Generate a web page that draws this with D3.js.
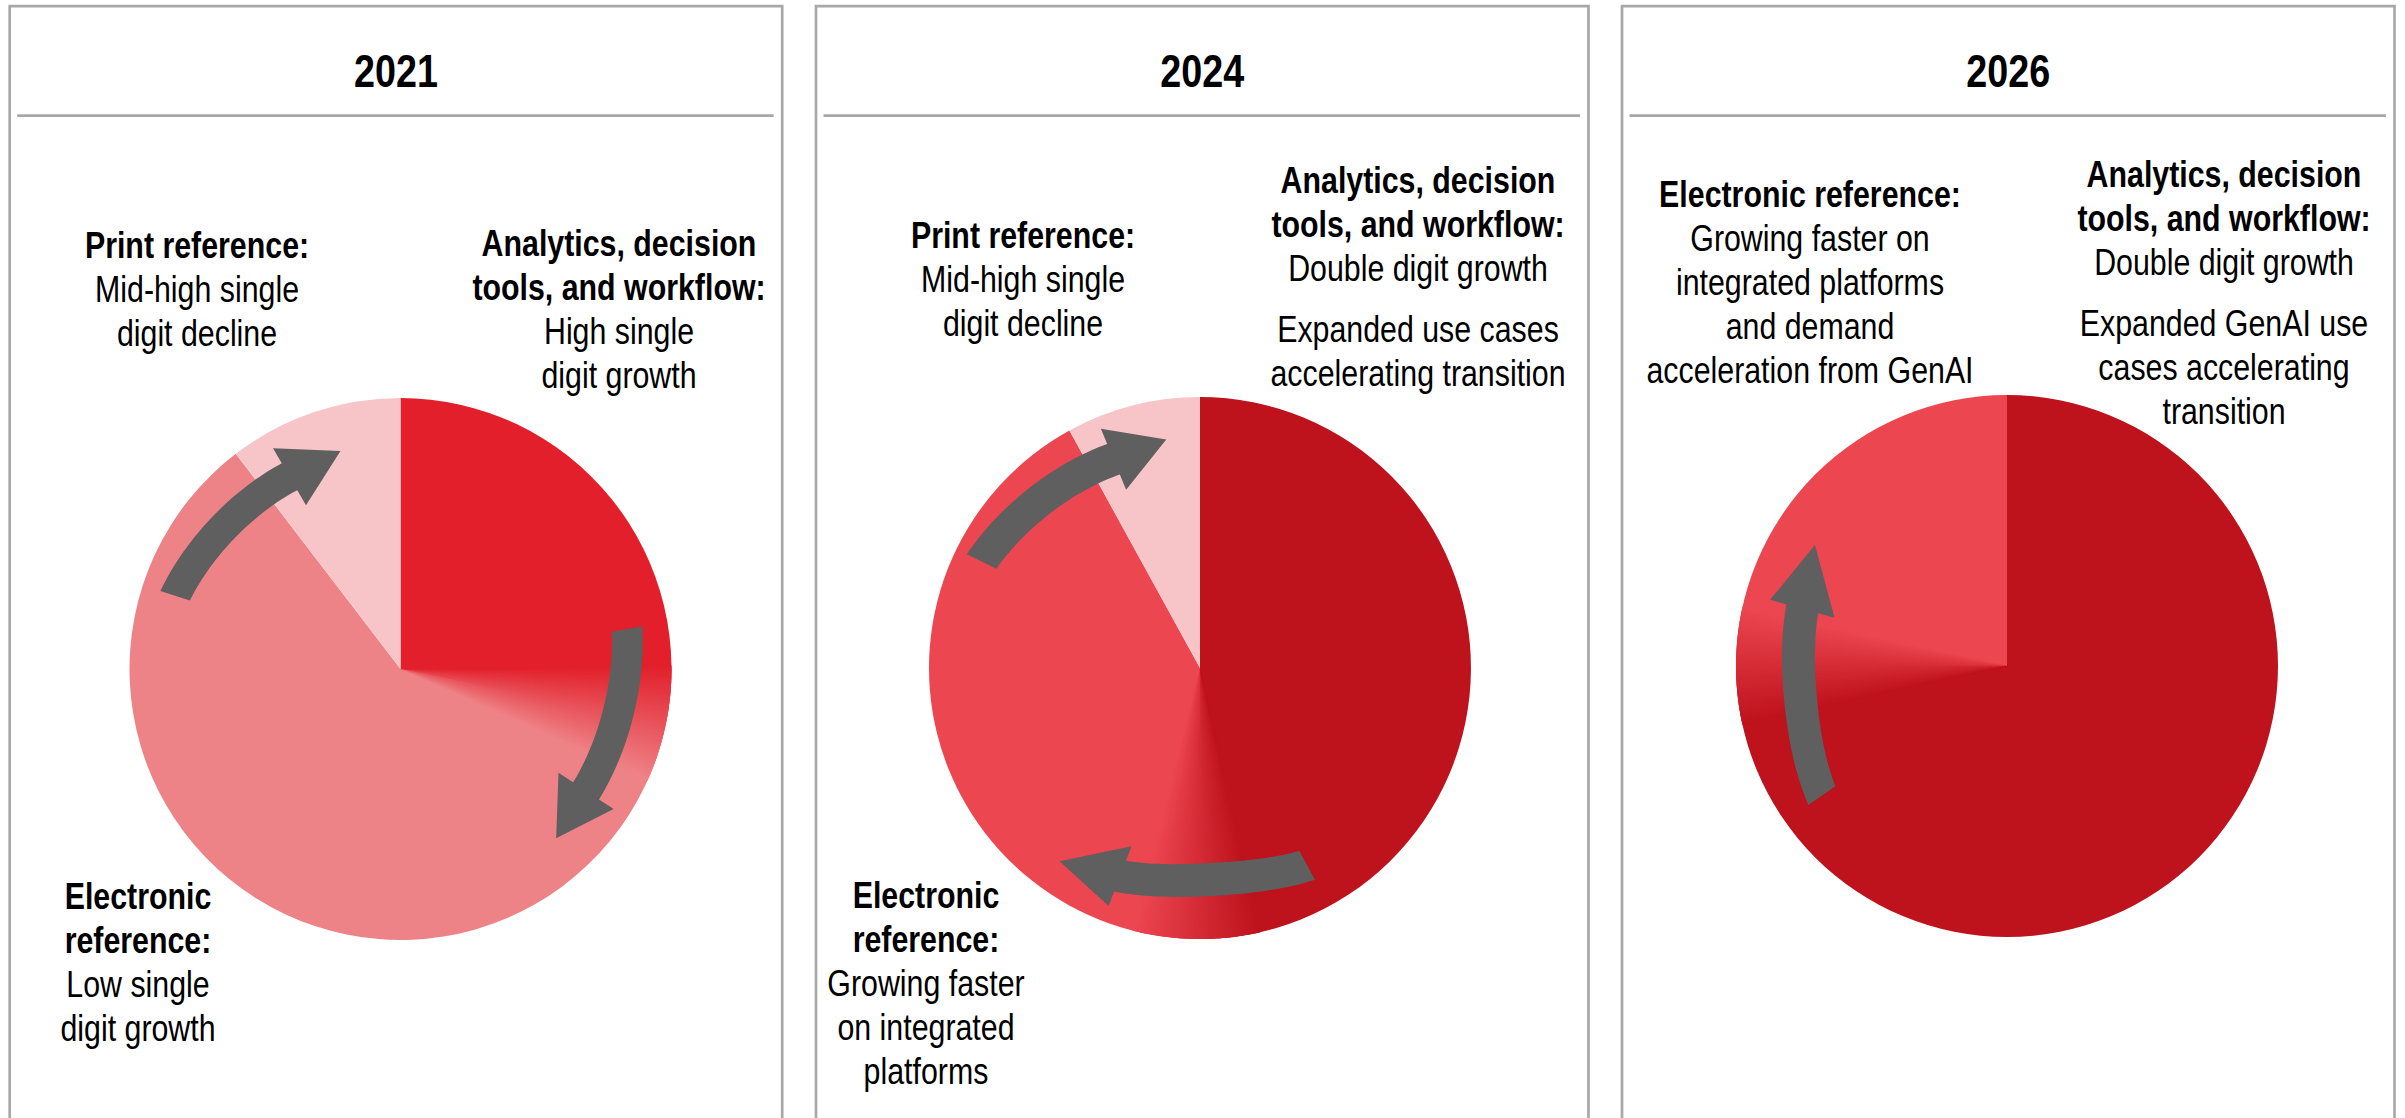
<!DOCTYPE html>
<html><head><meta charset="utf-8">
<script src="https://cdn.jsdelivr.net/npm/d3@7"></script>
<style>html,body{margin:0;padding:0;background:#fff;overflow:hidden}</style>
</head><body><svg id="chart" width="2405" height="1118"></svg>
<script>
// ---------- data ----------
const years = ["2021", "2024", "2026"];
const segments = ["Analytics, decision tools, and workflow", "Electronic reference", "Print reference"];
const shares2021 = [28.3, 61.3, 10.4];
const shares2024 = [50.2, 41.8, 8.0];
const shares2026 = [75.0, 25.0, 0.0];
const colors2021 = ["#E21F2B", "#EE8387", "#F7C5C8"];
const colors2024 = ["#BE121D", "#EC4650", "#F7C5C8"];
const colors2026 = ["#BE121D", "#EC4650", "#F7C5C8"];
// width (degrees) of the soft transition between segment 1 and segment 2
const blendWidth = [25, 27, 25];

// text blocks: [text, bold, extraGapBefore]
const labels2021 = [
  [["Print reference:", true], ["Mid-high single", false], ["digit decline", false]],
  [["Analytics, decision", true], ["tools, and workflow:", true], ["High single", false], ["digit growth", false]],
  [["Electronic", true], ["reference:", true], ["Low single", false], ["digit growth", false]]
];
const labels2024 = [
  [["Print reference:", true], ["Mid-high single", false], ["digit decline", false]],
  [["Analytics, decision", true], ["tools, and workflow:", true], ["Double digit growth", false], ["Expanded use cases", false, true], ["accelerating transition", false]],
  [["Electronic", true], ["reference:", true], ["Growing faster", false], ["on integrated", false], ["platforms", false]]
];
const labels2026 = [
  [["Electronic reference:", true], ["Growing faster on", false], ["integrated platforms", false], ["and demand", false], ["acceleration from GenAI", false]],
  [["Analytics, decision", true], ["tools, and workflow:", true], ["Double digit growth", false], ["Expanded GenAI use", false, true], ["cases accelerating", false], ["transition", false]]
];

// ---------- layout ----------
const panelX = [9.7, 816, 1622];
const panelW = 772.5;
const pieCx = [400.5, 1200, 2007];
const pieCy = [669, 668, 666];
const R = 271;
const labelPos = [
  [[197, 258], [619, 256], [138, 909]],
  [[1023, 248], [1418, 193], [926, 908]],
  [[1810, 207], [2224, 187]]
];
// arrows: tail angle, head-base angle, tip angle (deg clockwise from 12 o'clock),
// tail radius, head radius, tip radius, inward bow, shaft width, head width
const arrows = [
  [{a0: 288, a1: 330, a2: 344.6, r0: 237, r1: 222, rt: 226, bow: 3, w: 31, hw: 66},
   {a0: 80, a1: 123.3, a2: 137.4, r0: 230, r1: 222, rt: 230, bow: 4, w: 31, hw: 66}],
  [{a0: 296, a1: 337.5, a2: 351.6, r0: 243, r1: 226, rt: 231, bow: 3, w: 33, hw: 66},
   {a0: 151.5, a1: 201, a2: 216, r0: 224.5, r1: 223, rt: 239, bow: 12, w: 33, hw: 64}],
  [{a0: 235, a1: 285.6, a2: 302.2, r0: 226, r1: 212.5, rt: 227, bow: 10, w: 33, hw: 67}]
];

const allShares = [shares2021, shares2024, shares2026];
const allColors = [colors2021, colors2024, colors2026];
const allLabels = [labels2021, labels2024, labels2026];

const svg = d3.select("#chart");

// font detection: prefer a narrow face, else compress Liberation Sans
let fam = "'Liberation Sans Narrow', 'Arial Narrow', sans-serif";
let sx = 1;
(function () {
  const t = svg.append("text").style("font-size", "100px").text("Mid-high single digit decline");
  t.style("font-family", "'Liberation Sans Narrow'");
  const w1 = t.node().getComputedTextLength();
  t.style("font-family", "'Liberation Sans'");
  const w2 = t.node().getComputedTextLength();
  t.remove();
  if (w1 / w2 > 0.9) { fam = "'Liberation Sans', Arial, sans-serif"; sx = 0.82; }
})();

function drawText(g, x, y, str, size, bold) {
  g.append("text")
    .attr("transform", `translate(${x},${y}) scale(${sx},1)`)
    .attr("text-anchor", "middle")
    .style("font-family", fam)
    .style("font-size", size + "px")
    .style("font-weight", bold ? 700 : 400)
    .attr("fill", "#000")
    .text(str);
}

function polar(cx, cy, r, deg) {
  const a = deg * Math.PI / 180;
  return [cx + r * Math.sin(a), cy - r * Math.cos(a)];
}

function arrowPath(cx, cy, s) {
  const n = 40, outer = [], inner = [];
  for (let i = 0; i <= n; i++) {
    const t = i / n;
    const ang = s.a0 + (s.a1 - s.a0) * t;
    const rm = s.r0 + (s.r1 - s.r0) * t - s.bow * Math.sin(Math.PI * t);
    outer.push(polar(cx, cy, rm + s.w / 2, ang));
    inner.push(polar(cx, cy, rm - s.w / 2, ang));
  }
  const pts = outer.concat([
    polar(cx, cy, s.r1 + s.hw / 2, s.a1),
    polar(cx, cy, s.rt, s.a2),
    polar(cx, cy, s.r1 - s.hw / 2, s.a1)
  ]).concat(inner.reverse());
  return "M" + pts.map(p => p[0].toFixed(2) + "," + p[1].toFixed(2)).join("L") + "Z";
}

const pieGen = d3.pie().sort(null).value(d => d);
const arcGen = d3.arc().innerRadius(0).outerRadius(R);

years.forEach((yr, i) => {
  const g = svg.append("g");
  const x0 = panelX[i], x1 = panelX[i] + panelW;
  // frame
  g.append("path")
    .attr("d", `M${x0},1130V6.2H${x1}V1130`)
    .attr("fill", "none").attr("stroke", "#A8A8A8").attr("stroke-width", 2.7);
  g.append("line")
    .attr("x1", x0 + 7.5).attr("x2", x1 - 8.5)
    .attr("y1", 115.7).attr("y2", 115.7)
    .attr("stroke", "#A8A8A8").attr("stroke-width", 2.7);
  // title
  drawText(g, (x0 + x1) / 2, 87, yr, 46, true);

  // pie
  const cx = pieCx[i], cy = pieCy[i];
  const pg = g.append("g").attr("transform", `translate(${cx},${cy})`);
  const arcs = pieGen(allShares[i]);
  const cols = allColors[i];
  pg.selectAll("path.slice").data(arcs).join("path")
    .attr("class", "slice")
    .attr("d", arcGen)
    .attr("fill", (d, k) => cols[k]);

  // soft transition between first and second segment
  const b = arcs[0].endAngle;
  const bw = blendWidth[i] * Math.PI / 180;
  const N = 60, step = bw / N;
  const interp = d3.interpolateRgb(cols[0], cols[1]);
  const blend = d3.range(N).map(k => ({
    startAngle: b - bw / 2 + k * step - 0.002,
    endAngle: b - bw / 2 + (k + 1) * step + 0.004,
    t: (k + 0.5) / N
  }));
  pg.selectAll("path.blend").data(blend).join("path")
    .attr("class", "blend")
    .attr("d", d => arcGen(d))
    .attr("fill", d => interp(d.t));

  // arrows
  arrows[i].forEach(s => {
    g.append("path").attr("d", arrowPath(cx, cy, s)).attr("fill", "#5F5F5F");
  });

  // labels
  allLabels[i].forEach((block, j) => {
    const [lx, ly] = labelPos[i][j];
    let y = ly;
    block.forEach((ln, k) => {
      if (k > 0) y += 44 + (ln[2] ? 17 : 0);
      drawText(g, lx, y, ln[0], 37, ln[1]);
    });
  });
});
</script></body></html>
